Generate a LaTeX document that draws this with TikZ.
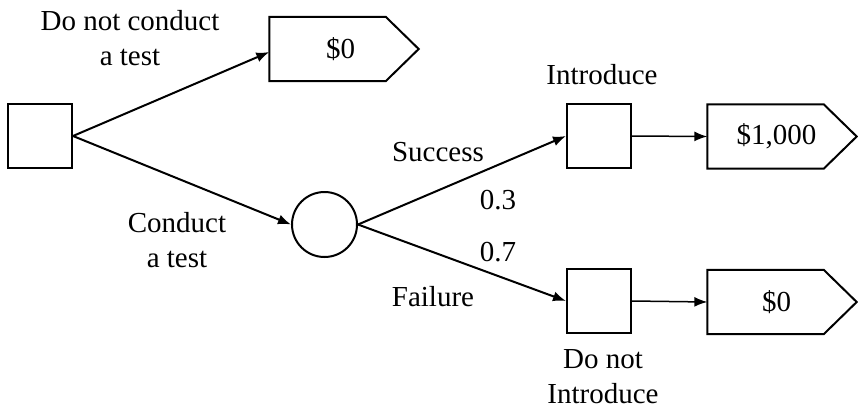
\documentclass[tikz,border=0pt]{standalone}
\usepackage{fontspec}
\setmainfont{Liberation Serif}
\usetikzlibrary{arrows.meta}
\begin{document}
\begin{tikzpicture}[x=1pt,y=-1pt,
  every node/.style={font=\fontsize{29}{35}\selectfont, inner sep=0pt, align=center},
  decision/.style={draw, line width=2pt, rectangle, minimum size=64pt},
  chance/.style={draw, line width=2pt, circle, minimum size=65pt},
  payoff/.style={rectangle, minimum width=116pt, minimum height=64pt},
  conn/.style={line width=2pt, -{Latex[length=13pt,width=10pt]}},
  thinconn/.style={line width=1.5pt, -{Latex[length=13pt,width=10pt]}},
  penta/.style={line width=2pt, line join=miter}
]
\useasboundingbox (0,0) rectangle (858,410);

% decision and chance nodes
\node[decision] (d0) at (40,136) {};
\node[chance] (c1) at (324.5,224.5) {};
\node[decision] (d1) at (599,136) {};
\node[decision] (d2) at (599,301) {};

% payoff nodes
\node[payoff, label={[xshift=13pt]center:\$0}] (pa) at (327.5,49) {};
\node[payoff, label={[xshift=11pt]center:\$1,000}] (pb) at (765.5,136.5) {};
\node[payoff, label={[xshift=11pt]center:\$0}] (pc) at (765.5,302) {};
\foreach \p in {pa,pb,pc}{
  \draw[penta] (\p.north west) -- (\p.north east) -- ([xshift=33pt]\p.east)
     -- (\p.south east) -- (\p.south west) -- cycle;
}

% connectors
\draw[conn] (d0.east) -- ([yshift=-3pt]pa.west);
\draw[conn] (d0.east) -- (c1.west);
\draw[conn] (c1.east) -- (d1.west);
\draw[conn] (c1.east) -- (d2.west);
\draw[thinconn] (d1.east) -- (pb.west);
\draw[thinconn] (d2.east) -- (pc.west);

% labels
\node (l1) at (130,38) {Do not conduct\\a test};
\node (l2) at (177,240) {Conduct\\a test};
\node (l3) at (438,152) {Success};
\node (l4) at (498,200) {0.3};
\node (l5) at (498,252) {0.7};
\node (l6) at (433,297) {Failure};
\node (l7) at (602,75) {Introduce};
\node (l8) at (603,377) {Do not\\Introduce};
\end{tikzpicture}
\end{document}
